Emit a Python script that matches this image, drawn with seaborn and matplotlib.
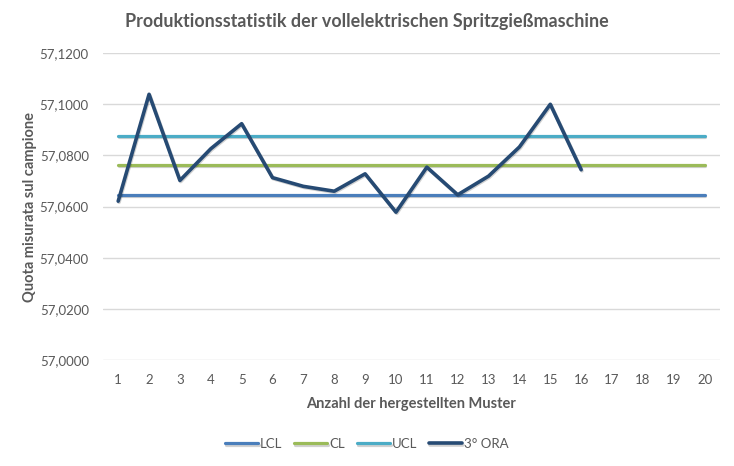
import matplotlib
matplotlib.use("Agg")
import matplotlib.pyplot as plt
import matplotlib.patheffects as pe
from matplotlib.ticker import FuncFormatter, MultipleLocator
import seaborn as sns
import pandas as pd

# data
samples = list(range(1, 21))
lcl = [57.0645] * 20
cl = [57.0763] * 20
ucl = [57.0876] * 20
ora_samples = list(range(1, 17))
ora = [57.0621, 57.1039, 57.0702, 57.0826, 57.0924, 57.0713, 57.0679, 57.0660,
       57.0728, 57.0578, 57.0754, 57.0646, 57.0719, 57.0833, 57.1000, 57.0744]

series_names = ["LCL", "CL", "UCL", "3° ORA"]
colors = ["#4A7EBB", "#9BBB59", "#4BACC6", "#264A73"]
widths = [2.3, 2.3, 2.3, 2.6]

sns.set_theme(style="white")
plt.rcParams["font.family"] = ["Lato", "DejaVu Sans"]
text_grey = "#595959"

fig = plt.figure(figsize=(7.34, 4.66), dpi=100)
ax = fig.add_axes([0.140, 0.2275, 0.841, 0.6585])

series = [(samples, lcl), (samples, cl), (samples, ucl), (ora_samples, ora)]
shadow = [pe.SimpleLineShadow(offset=(0.6, -0.8), shadow_color="#000000", alpha=0.18), pe.Normal()]
for (xs, ys), name, c, lw in zip(series, series_names, colors, widths):
    df = pd.DataFrame({"x": xs, "y": ys})
    sns.lineplot(data=df, x="x", y="y", ax=ax, color=c, linewidth=lw, label=name,
                 solid_capstyle="round", solid_joinstyle="round", path_effects=shadow)

ax.set_xlim(0.5, 20.5)
ax.set_ylim(57.0, 57.12)
ax.yaxis.set_major_locator(MultipleLocator(0.02))
ax.yaxis.set_major_formatter(FuncFormatter(lambda v, p: f"{v:.4f}".replace(".", ",")))
ax.set_xticks(samples)

ax.grid(axis="y", color="#D9D9D9", linewidth=1)
ax.set_axisbelow(True)
for s in ax.spines.values():
    s.set_visible(False)
ax.tick_params(axis="both", length=0, labelsize=9.5, colors=text_grey, pad=10)

ax.set_xlabel("Anzahl der hergestellten Muster", fontsize=10.5, fontweight="bold",
              color=text_grey, labelpad=8)
ax.set_ylabel("Quota misurata sul campione", fontsize=10.5, fontweight="bold",
              color=text_grey, labelpad=2)
fig.suptitle("Produktionsstatistik der vollelektrischen Spritzgießmaschine",
             x=0.50, y=0.972, fontsize=12.9, fontweight="bold", color=text_grey)

handles, labels = ax.get_legend_handles_labels()
ax.legend_.remove()
leg = fig.legend(handles, labels, loc="center", bbox_to_anchor=(0.5, 0.047), ncol=4,
                 frameon=False, fontsize=9.5, handlelength=2.5, handletextpad=0.15,
                 columnspacing=0.9)
for t in leg.get_texts():
    t.set_color(text_grey)

fig.savefig("out.png", dpi=100)
